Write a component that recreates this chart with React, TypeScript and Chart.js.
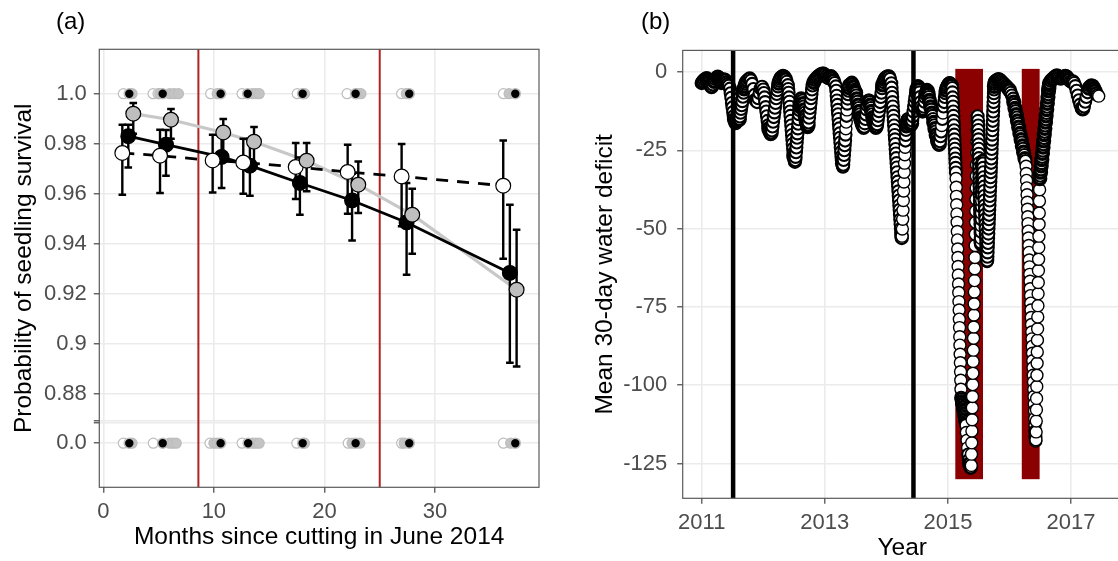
import React, { useEffect, useRef } from 'react';
import { Chart, registerables } from 'chart.js';

Chart.register(...registerables);
Chart.defaults.font.family = "'Liberation Sans', Arial, Helvetica, sans-serif";

// ---------------- Panel (a): seedling survival ----------------
const monthTicks = [0, 10, 20, 30];
const survivalTicks = [0, 0.88, 0.9, 0.92, 0.94, 0.96, 0.98, 1.0];
const survivalTickLabels = ['0.0', '0.88', '0.9', '0.92', '0.94', '0.96', '0.98', '1.0'];
const cutLines = [8.6, 25.0];

const blackMonths = [2.26, 5.67, 10.7, 13.26, 17.78, 22.5, 27.43, 36.77];
const blackSurvival = [0.983, 0.9796, 0.9747, 0.9712, 0.9643, 0.9573, 0.9485, 0.9283];
const blackLower = [0.9705, 0.9672, 0.9623, 0.9592, 0.9516, 0.9413, 0.9276, 0.8924];
const blackUpper = [0.9876, 0.9855, 0.983, 0.982, 0.9745, 0.968, 0.9643, 0.9556];

const greyMonths = [2.71, 6.12, 10.85, 13.63, 18.39, 23.06, 27.94, 37.38];
const greySurvival = [0.992, 0.9896, 0.9845, 0.9808, 0.9732, 0.9636, 0.9516, 0.9216];
const greyLower = [0.984, 0.982, 0.975, 0.9705, 0.961, 0.9523, 0.936, 0.8909];
const greyUpper = [0.9963, 0.9939, 0.9899, 0.9867, 0.9803, 0.9729, 0.962, 0.9456];

const whiteMonths = [1.72, 5.13, 9.89, 12.66, 17.4, 22.1, 26.98, 36.17];
const whiteSurvival = [0.9763, 0.9752, 0.9733, 0.9725, 0.9707, 0.9687, 0.9669, 0.9632];
const whiteLower = [0.9596, 0.9603, 0.9605, 0.96, 0.9579, 0.952, 0.947, 0.934];
const whiteUpper = [0.9876, 0.9856, 0.9836, 0.982, 0.9803, 0.9796, 0.9799, 0.9813];

// raw observations (survived = 1, died = 0)
const aliveWhite = [1.81, 4.5, 4.95, 9.71, 12.55, 17.54, 22.05, 26.98, 36.19];
const aliveGrey = [2.6, 5.1, 6.0, 6.4, 6.8, 10.3, 13.5, 13.8, 14.1, 18.2, 23.0, 23.3, 27.4, 36.7];
const aliveBlack = [2.35, 5.37, 10.61, 13.06, 18.03, 22.82, 27.67, 37.26];
const deadWhite = [1.81, 4.52, 9.65, 12.55, 17.5, 22.15, 26.98, 36.19];
const deadGrey = [2.6, 6.0, 6.3, 6.6, 10.0, 10.3, 13.5, 13.8, 14.1, 18.2, 22.5, 23.2, 27.2, 36.84];
const deadBlack = [2.35, 5.37, 10.61, 13.1, 18.03, 22.82, 27.67, 37.26];

// broken axis: the 0.0 row is drawn just below 0.88
const BREAK_ZERO = 0.8602;
const BREAK_MARKS = [0.8683, 0.8693];
const axisY = (v: number) => (v < 0.5 ? BREAK_ZERO + v : v);

// ---------------- Panel (b): mean 30-day water deficit ----------------
const yearTicks = [2011, 2013, 2015, 2017];
const deficitTicks = [0, -25, -50, -75, -100, -125];
const eventLines = [2011.51, 2014.44];
const droughtStart = [2015.12, 2016.2];
const droughtEnd = [2015.57, 2016.49];
const droughtTop = 1;
const droughtBottom = -130;

const wd2011a = [-3.5, -3.0, -2.5, -2.1, -2.0, -2.5, -3.3, -4.1, -4.7, -4.0, -3.0, -2.2, -1.8, -1.5, -2.0, -2.7, -3.5, -3.0, -2.3, -2.6, -3.3, -3.9, -4.4];
const wd2011b = [-5.3, -6.8, -8.2, -9.9, -11.3, -12.8, -14.1, -15.2, -16.0, -16.3, -15.7, -15.0, -14.4, -14.1, -14.6, -15.1, -14.2, -13.0, -11.8, -10.6, -9.3, -7.9, -6.6, -5.4, -4.5, -3.7, -3.1];
const wd2011c = [-2.7, -2.3, -2.1, -2.7, -3.8, -5.4, -7.3, -8.9, -9.6, -8.4, -6.7, -5.2, -4.7];
const wd2012a = [-5.6, -6.7, -8.1, -9.6, -11.2, -12.6, -14.1, -15.6, -17.0, -18.1, -19.0, -19.6, -19.9, -19.5, -18.7, -17.4, -15.9, -14.4, -12.9, -11.4, -9.9, -8.4, -7.0, -5.8, -4.6, -3.6, -2.8, -2.2, -1.8];
const wd2012b = [-1.5, -1.2, -1.6, -2.3, -3.1];
const wd2012c = [-4.2, -5.4, -6.6, -8.1, -9.5, -11.1, -12.6, -14.0, -15.6, -17.1, -18.5, -20.1, -21.6, -23.0, -24.5, -25.9, -27.0, -27.9, -28.4, -28.7, -28.2, -27.1, -25.6, -24.1, -22.5, -21.0, -19.6, -18.0, -16.5, -15.1, -13.5, -12.1, -11.0, -10.1, -9.3, -8.8, -8.5];
const wd2012d = [-9.1, -10.1, -11.0, -12.1, -13.0, -14.1, -15.0, -16.0, -16.8, -17.3, -17.6, -17.0, -16.1, -14.6, -13.0, -11.5, -10.0, -8.4, -7.0, -5.6, -4.3];
const wd2012e = [-3.3, -2.5, -2.0, -1.6, -1.2, -0.9, -0.6, -0.4, -0.5, -0.9, -1.4, -1.8, -2.0, -1.7, -1.4, -2.0, -2.8, -3.5];
const wd2013a = [-4.6, -6.0, -7.6, -9.1, -10.5, -12.1, -13.5, -15.0, -16.6, -18.0, -19.6, -21.0, -22.5, -24.1, -25.5, -27.0, -28.2, -29.2, -29.9, -30.2, -29.6, -28.1, -26.5, -25.0, -23.4, -21.9, -20.0, -18.1, -16.0, -14.0, -12.1, -10.1, -8.5, -7.1, -6.0, -5.0, -4.2];
const wd2013b = [-3.8, -3.5, -3.4, -3.9, -4.5, -5.0, -5.6, -6.0, -6.6, -7.5, -8.6, -9.5, -10.6, -11.5, -12.6, -13.5, -14.6, -15.5, -16.3, -17.0, -17.6, -17.9, -17.5, -16.4, -15.0, -13.6, -12.0, -10.6, -9.5, -9.0, -9.1, -9.6, -10.6, -11.5, -12.6, -13.5, -14.6, -15.5, -16.3, -17.1, -17.6, -17.9, -17.4, -16.7, -15.4, -14.0, -12.5, -11.0, -9.6, -8.0, -6.6, -5.2, -4.1, -3.2, -2.6, -2.2, -1.9];
const wd2014a = [-1.6, -1.3, -1.5, -2.2];
const wd2014b = [-3.6, -5.0, -6.6, -8.0, -9.6, -11.0, -12.6, -14.0, -15.5, -17.1, -18.5, -20.1, -21.5, -23.0, -24.6, -26.0, -27.5, -29.1, -30.5, -32.0, -33.6, -35.0, -36.5, -38.1, -39.5, -41.0, -42.6, -44.0, -45.5, -47.1, -48.5, -50.0, -51.3, -52.3, -53.0, -52.4, -50.1, -47.0, -44.1, -41.0, -38.0, -35.1, -32.0, -29.1, -26.4, -24.0, -21.9, -20.1, -18.5, -17.2, -16.3, -15.6, -15.2, -15.0];
const wd2014c = [-15.1, -15.6, -16.1, -16.5, -16.9, -17.0, -16.4, -15.5, -14.1, -12.6, -11.0, -9.5, -8.1, -6.6, -5.5, -4.8, -4.4, -4.8, -5.6, -6.5, -8.0, -9.6, -11.0, -12.1, -12.6, -12.0, -11.1, -9.5, -8.1, -6.9, -6.0, -5.7, -6.2, -7.1, -8.0, -9.1, -10.0, -11.1, -12.0, -13.1, -14.0];
const wd2014d = [-15.0, -16.1, -17.0, -18.1, -19.0, -20.1, -21.0, -22.0, -22.8, -23.3, -23.0, -22.1, -20.5, -19.0, -17.1, -15.0, -13.1, -11.0, -9.6, -8.0, -6.8, -5.8, -5.0, -4.4, -4.0, -3.7, -3.5, -3.4, -3.6, -3.9, -4.3];
const wd2015a = [-5.1, -6.5, -8.1, -9.5, -11.0, -12.6, -14.0, -15.6, -17.0, -18.6, -20.0, -21.5, -23.1, -24.5, -26.0, -27.6, -29.0, -30.6, -32.1, -34.0, -36.8, -39.7, -42.4, -45.3, -48.0, -50.9, -53.6, -56.5, -59.2, -62.1, -64.8, -67.7, -70.4, -73.3, -76.0, -78.9, -81.6, -84.5, -87.2, -90.1, -92.8, -95.7, -98.4, -101.3, -104.0];
const wd2015b = [-104.5, -105.0, -105.4, -105.9, -106.3, -106.8, -107.2, -107.7, -108.1, -108.5, -109.0, -109.4, -109.9, -110.3, -110.7, -111.1, -111.6, -112.0, -112.4, -112.8];
const wd2015c = [-115.1, -117.6, -120.0, -122.1, -123.9, -125.1, -125.9, -126.3];
const wd2015d = [-125.6, -122.0, -118.4, -114.6, -111.0, -107.2, -103.6, -99.8, -96.2, -92.4, -88.8, -85.0, -81.4, -77.6, -74.0, -70.2, -66.6, -62.8, -59.2, -55.4, -51.8, -48.0, -44.4, -40.6, -37.0, -33.2, -29.6, -25.8, -22.2, -18.6, -15.6, -14.1];
const wd2015e = [-15.6, -17.1, -18.5, -20.1, -21.5, -23.1, -24.5, -26.1, -27.5, -29.1, -30.5, -32.1, -33.5, -35.1, -36.5, -38.1, -39.5, -41.1, -42.5, -44.1, -45.5, -47.1, -48.5, -50.1, -51.5, -53.0, -54.2, -55.0, -54.5, -53.1, -51.0, -49.1, -47.0, -45.1, -43.0, -41.1, -39.0, -37.1, -35.5, -34.0, -32.6, -31.1, -30.0, -29.1, -28.5, -28.2, -28.5, -29.2];
const wd2015f = [-30.6, -32.0, -33.6, -35.0, -36.6, -38.0, -39.6, -41.0, -42.6, -44.0, -45.6, -47.0, -48.6, -50.0, -51.6, -53.0, -54.6, -56.0, -57.5, -58.8, -59.8, -60.5, -60.2, -59.0, -57.6, -56.0, -54.6, -53.0, -51.6, -50.0, -48.6, -47.0, -45.6, -44.0, -42.6, -41.0, -39.6, -38.0, -36.6, -35.0, -33.6, -32.0, -30.6, -29.0, -27.6, -26.0, -24.6, -23.0, -21.6, -20.0, -18.6, -17.0, -15.6, -14.0, -12.6, -11.0, -9.6, -8.1, -6.8, -5.6, -4.6, -3.8];
const wd2015g = [-3.2, -2.7, -2.4, -2.2, -2.4, -2.8, -3.2, -3.6, -4.0, -4.4, -4.8, -5.3, -5.8, -6.6, -7.5, -8.5];
const wd2016a = [-9.6, -10.5, -11.6, -12.5, -13.6, -14.5, -15.6, -16.5, -17.6, -18.5, -19.6, -20.5, -21.6, -22.5, -23.6, -24.5, -25.6, -26.5, -27.6, -28.4];
const wd2016b = [-30.1, -32.4, -34.6, -37.0, -39.2, -41.6, -43.8, -46.2, -48.4, -50.8, -53.0, -55.4, -57.6, -60.0, -62.2, -64.6, -66.8, -69.2, -71.4, -73.8, -76.0, -78.4, -80.6, -83.0, -85.2, -87.6, -89.8, -92.2, -94.4, -96.8, -99.0, -101.4, -103.6, -106.0, -108.2, -110.6, -112.8, -114.8, -116.6, -117.8];
const wd2016c = [-117.4, -114.9, -111.4, -107.8, -104.2, -100.4, -96.8, -93.0, -89.4, -85.6, -82.0, -78.2, -74.6, -70.8, -67.2, -63.4, -59.8, -56.0, -52.4, -48.6, -45.0, -41.2, -37.6, -34.0];
const wd2016d = [-33.1, -32.0, -31.1, -30.0, -29.1, -28.0, -27.1, -26.0, -25.1, -24.0, -23.1, -22.0, -21.1, -20.0, -19.1, -18.0, -17.1, -16.0, -15.1, -14.0, -13.1, -12.0, -11.1, -10.0, -9.1, -8.0, -7.1, -6.0, -5.1, -4.2];
const wd2016e = [-3.6, -2.8, -2.3, -2.0, -1.6, -1.2, -1.0, -1.3, -1.8, -2.2, -2.0, -1.6, -1.3, -1.2, -1.5, -2.0, -2.5, -3.0, -3.2, -3.0, -3.5, -4.5, -6.0, -7.5, -9.0, -10.4, -11.5, -11.8, -11.0, -9.5, -8.0, -6.5, -5.2, -4.5, -4.2, -4.5, -5.2, -6.0, -6.8, -7.4, -7.7];

// first date and spacing (in years) of each run of readings
const runStart = [2011.0, 2011.46, 2011.74, 2012.0, 2012.3, 2012.4, 2012.64, 2012.82, 2013.18, 2013.42, 2014.0, 2014.08, 2014.35, 2014.76, 2015.07, 2015.22, 2015.3, 2015.38, 2015.49, 2015.573, 2015.76, 2016.07, 2016.27, 2016.43, 2016.5, 2016.65];
const runStep = [0.02, 0.01, 0.02, 0.01, 0.02, 0.006, 0.008, 0.02, 0.006, 0.01, 0.02, 0.005, 0.01, 0.01, 0.0033, 0.004, 0.01, 0.0033, 0.0017, 0.003, 0.02, 0.01, 0.004, 0.0027, 0.005, 0.02];
const runValues = [wd2011a, wd2011b, wd2011c, wd2012a, wd2012b, wd2012c, wd2012d, wd2012e, wd2013a, wd2013b, wd2014a, wd2014b, wd2014c, wd2014d, wd2015a, wd2015b, wd2015c, wd2015d, wd2015e, wd2015f, wd2015g, wd2016a, wd2016b, wd2016c, wd2016d, wd2016e];

const TICK_COLOR = '#4D4D4D';
const GRID_COLOR = '#EBEBEB';
const BORDER_COLOR = '#5A5A5A';
const TICK_FONT = 22;
const TITLE_FONT = 24.5;

function gridOpts() {
  return { color: GRID_COLOR, lineWidth: 1.6, drawTicks: true, tickLength: 5.5, tickColor: '#333333', tickWidth: 1.1 };
}

function makePanelA(canvas: HTMLCanvasElement) {
  const pts = (xs: number[], ys: number[]) => xs.map((x, i) => ({ x, y: axisY(ys[i]) }));
  const row = (xs: number[], v: number) => xs.map((x) => ({ x, y: axisY(v) }));
  const fitted = [
    { m: blackMonths, lo: blackLower, hi: blackUpper },
    { m: greyMonths, lo: greyLower, hi: greyUpper },
    { m: whiteMonths, lo: whiteLower, hi: whiteUpper },
  ];
  const rawStyle = (bg: string, bw: number) => ({
    showLine: false, pointRadius: 5, pointBackgroundColor: bg, pointBorderColor: '#BDBDBD', pointBorderWidth: bw,
  });
  const panelPlugin = {
    id: 'panelA',
    beforeDatasetsDraw(chart: any) {
      const { ctx, chartArea, scales } = chart;
      ctx.save();
      ctx.strokeStyle = '#B22222';
      ctx.lineWidth = 2;
      cutLines.forEach((m) => {
        const x = scales.x.getPixelForValue(m);
        ctx.beginPath();
        ctx.moveTo(x, chartArea.top);
        ctx.lineTo(x, chartArea.bottom);
        ctx.stroke();
      });
      ctx.restore();
    },
    beforeDatasetDraw(chart: any, args: any) {
      if (chart.data.datasets[args.index].label !== 'black fitted') return;
      const { ctx, scales } = chart;
      ctx.save();
      ctx.strokeStyle = '#000';
      ctx.lineWidth = 2.4;
      fitted.forEach((s) => {
        s.m.forEach((m, i) => {
          const x = scales.x.getPixelForValue(m);
          const y1 = scales.y.getPixelForValue(s.lo[i]);
          const y2 = scales.y.getPixelForValue(s.hi[i]);
          ctx.beginPath();
          ctx.moveTo(x, y1); ctx.lineTo(x, y2);
          ctx.moveTo(x - 3.8, y1); ctx.lineTo(x + 3.8, y1);
          ctx.moveTo(x - 3.8, y2); ctx.lineTo(x + 3.8, y2);
          ctx.stroke();
        });
      });
      ctx.restore();
    },
    afterDatasetsDraw(chart: any) {
      const { ctx, chartArea } = chart;
      ctx.save();
      ctx.strokeStyle = BORDER_COLOR;
      ctx.lineWidth = 1.2;
      ctx.strokeRect(chartArea.left, chartArea.top, chartArea.right - chartArea.left, chartArea.bottom - chartArea.top);
      ctx.restore();
    },
  };
  return new Chart(canvas, {
    type: 'scatter',
    data: {
      datasets: [
        { label: 'alive white', data: row(aliveWhite, 1), order: 20, ...rawStyle('#FFFFFF', 1.2) },
        { label: 'dead white', data: row(deadWhite, 0), order: 20, ...rawStyle('#FFFFFF', 1.2) },
        { label: 'alive grey', data: row(aliveGrey, 1), order: 19, ...rawStyle('#C4C4C4', 1.2) },
        { label: 'dead grey', data: row(deadGrey, 0), order: 19, ...rawStyle('#C4C4C4', 1.2) },
        { label: 'alive black', data: row(aliveBlack, 1), order: 18, ...rawStyle('#000000', 1.6) },
        { label: 'dead black', data: row(deadBlack, 0), order: 18, ...rawStyle('#000000', 1.6) },
        { label: 'grey line', data: pts(greyMonths, greySurvival), order: 12, showLine: true, borderColor: '#C8C8C8', borderWidth: 3.2, pointRadius: 0 },
        { label: 'white line', data: pts(whiteMonths, whiteSurvival), order: 11, showLine: true, borderColor: '#000000', borderWidth: 2.8, borderDash: [12, 9], pointRadius: 0 },
        { label: 'black line', data: pts(blackMonths, blackSurvival), order: 10, showLine: true, borderColor: '#000000', borderWidth: 2.8, pointRadius: 0 },
        { label: 'black fitted', data: pts(blackMonths, blackSurvival), order: 5, showLine: false, pointRadius: 7.4, pointBackgroundColor: '#000000', pointBorderColor: '#000000', pointBorderWidth: 1.2 },
        { label: 'white fitted', data: pts(whiteMonths, whiteSurvival), order: 4, showLine: false, pointRadius: 7.4, pointBackgroundColor: '#FFFFFF', pointBorderColor: '#000000', pointBorderWidth: 1.2 },
        { label: 'grey fitted', data: pts(greyMonths, greySurvival), order: 3, showLine: false, pointRadius: 7.4, pointBackgroundColor: '#BEBEBE', pointBorderColor: '#000000', pointBorderWidth: 1.2 },
      ],
    },
    options: {
      animation: false,
      responsive: false,
      devicePixelRatio: 1,
      events: [],
      layout: { autoPadding: false, padding: { left: 0, right: 21, top: 49.3, bottom: 0 } },
      plugins: { legend: { display: false }, tooltip: { enabled: false } },
      scales: {
        x: {
          type: 'linear',
          bounds: 'data',
          min: -0.362,
          max: 39.405,
          afterBuildTicks: (s: any) => { s.ticks = monthTicks.map((v) => ({ value: v })); },
          afterFit: (s: any) => { s.height = 73.7; },
          ticks: { color: TICK_COLOR, font: { size: TICK_FONT }, padding: 5.5, maxRotation: 0, autoSkip: false, callback: (v: any) => String(v) },
          grid: gridOpts(),
          border: { display: false },
          title: { display: true, text: 'Months since cutting in June 2014', color: '#000', font: { size: TITLE_FONT, lineHeight: 1.2 }, padding: { top: 0, bottom: 9.4 } },
        },
        y: {
          type: 'linear',
          bounds: 'data',
          min: 0.84256,
          max: 1.01776,
          afterBuildTicks: (s: any) => {
            const vals = survivalTicks.map(axisY).concat(BREAK_MARKS).sort((a, b) => a - b);
            s.ticks = vals.map((v) => ({ value: v }));
          },
          afterFit: (s: any) => { s.width = 99.3; },
          ticks: {
            color: TICK_COLOR, font: { size: TICK_FONT }, padding: 7, autoSkip: false,
            callback: (v: any) => {
              const i = survivalTicks.findIndex((t) => Math.abs(axisY(t) - v) < 1e-6);
              return i >= 0 ? survivalTickLabels[i] : '';
            },
          },
          grid: gridOpts(),
          border: { display: false },
          title: { display: true, text: 'Probability of seedling survival', color: '#000', font: { size: TITLE_FONT, lineHeight: 1.2 }, padding: { top: 9.4, bottom: 0 } },
        },
      },
    } as any,
    plugins: [panelPlugin],
  });
}

function makePanelB(canvas: HTMLCanvasElement) {
  const points: { x: number; y: number }[] = [];
  runValues.forEach((vals, k) => {
    vals.forEach((v, i) => points.push({ x: runStart[k] + i * runStep[k], y: v }));
  });
  // the daily readings overlap so tightly that, where two neighbours are only a
  // few pixels apart, the circle outlines merge; thin outline where they are far apart
  const outline = (c: any) => {
    const data = c.dataset.data;
    const i = c.dataIndex;
    if (!c.chart.scales || !c.chart.scales.x || i >= data.length - 1) return 1.4;
    const sx = c.chart.scales.x, sy = c.chart.scales.y;
    const dx = sx.getPixelForValue(data[i + 1].x) - sx.getPixelForValue(data[i].x);
    const dy = sy.getPixelForValue(data[i + 1].y) - sy.getPixelForValue(data[i].y);
    const d = Math.hypot(dx, dy);
    if (d > 6.2) return 1.4;
    if (d > 3) return 2.1;
    return Math.max(1.4, d + 0.4);
  };
  const panelPlugin = {
    id: 'panelB',
    beforeDatasetsDraw(chart: any) {
      const { ctx, scales } = chart;
      ctx.save();
      ctx.fillStyle = '#8B0000';
      droughtStart.forEach((s, i) => {
        const x1 = scales.x.getPixelForValue(s);
        const x2 = scales.x.getPixelForValue(droughtEnd[i]);
        const y1 = scales.y.getPixelForValue(droughtTop);
        const y2 = scales.y.getPixelForValue(droughtBottom);
        ctx.fillRect(x1, y1, x2 - x1, y2 - y1);
      });
      ctx.restore();
    },
    afterDatasetsDraw(chart: any) {
      const { ctx, chartArea, scales } = chart;
      ctx.save();
      ctx.strokeStyle = '#000';
      ctx.lineWidth = 4.5;
      eventLines.forEach((t) => {
        const x = scales.x.getPixelForValue(t);
        ctx.beginPath();
        ctx.moveTo(x, chartArea.top);
        ctx.lineTo(x, chartArea.bottom);
        ctx.stroke();
      });
      ctx.strokeStyle = BORDER_COLOR;
      ctx.lineWidth = 1.2;
      ctx.strokeRect(chartArea.left, chartArea.top, chartArea.right - chartArea.left, chartArea.bottom - chartArea.top);
      ctx.restore();
    },
  };
  return new Chart(canvas, {
    type: 'scatter',
    data: {
      datasets: [
        {
          label: 'Mean 30-day water deficit',
          data: points,
          showLine: false,
          pointRadius: 6,
          pointBackgroundColor: '#FFFFFF',
          pointBorderColor: '#000000',
          pointBorderWidth: outline,
        },
      ],
    },
    options: {
      animation: false,
      responsive: false,
      devicePixelRatio: 1,
      events: [],
      layout: { autoPadding: false, padding: { left: 0, right: 13.2, top: 50.4, bottom: 0 } },
      plugins: { legend: { display: false }, tooltip: { enabled: false } },
      scales: {
        x: {
          type: 'linear',
          bounds: 'data',
          min: 2010.691,
          max: 2017.825,
          afterBuildTicks: (s: any) => { s.ticks = yearTicks.map((v) => ({ value: v })); },
          afterFit: (s: any) => { s.height = 62.7; },
          ticks: { color: TICK_COLOR, font: { size: TICK_FONT }, padding: 5.5, maxRotation: 0, autoSkip: false, callback: (v: any) => String(v) },
          grid: gridOpts(),
          border: { display: false },
          title: { display: true, text: 'Year', color: '#000', font: { size: TITLE_FONT, lineHeight: 1.2 }, padding: { top: 0, bottom: -2 } },
        },
        y: {
          type: 'linear',
          bounds: 'data',
          min: -136.1,
          max: 6.9,
          afterBuildTicks: (s: any) => { s.ticks = deficitTicks.slice().sort((a, b) => a - b).map((v) => ({ value: v })); },
          afterFit: (s: any) => { s.width = 122.7; },
          ticks: { color: TICK_COLOR, font: { size: TICK_FONT }, padding: 10, autoSkip: false, callback: (v: any) => String(v) },
          grid: gridOpts(),
          border: { display: false },
          title: { display: true, text: 'Mean 30-day water deficit', color: '#000', font: { size: TITLE_FONT, lineHeight: 1.2 }, padding: { top: 30.7, bottom: 0 } },
        },
      },
    } as any,
    plugins: [panelPlugin],
  });
}

export default function App() {
  const refA = useRef<HTMLCanvasElement>(null);
  const refB = useRef<HTMLCanvasElement>(null);
  useEffect(() => {
    const a = makePanelA(refA.current as HTMLCanvasElement);
    const b = makePanelB(refB.current as HTMLCanvasElement);
    return () => { a.destroy(); b.destroy(); };
  }, []);
  const labelStyle: React.CSSProperties = {
    position: 'absolute', top: 9, fontFamily: "'Liberation Sans', Arial, sans-serif", fontSize: 24, lineHeight: '24px', color: '#000',
  };
  return (
    <div style={{ position: 'fixed', left: 0, top: 0, width: 1118, height: 561, overflow: 'hidden', background: '#FFFFFF' }}>
      <div style={{ position: 'absolute', left: 0, top: 0, width: 560, height: 561 }}>
        <canvas ref={refA} width={560} height={561} style={{ display: 'block' }} />
      </div>
      <div style={{ position: 'absolute', left: 560, top: 0, width: 575, height: 561 }}>
        <canvas ref={refB} width={575} height={561} style={{ display: 'block' }} />
      </div>
      <div style={{ ...labelStyle, left: 56 }}>(a)</div>
      <div style={{ ...labelStyle, left: 641 }}>(b)</div>
    </div>
  );
}
